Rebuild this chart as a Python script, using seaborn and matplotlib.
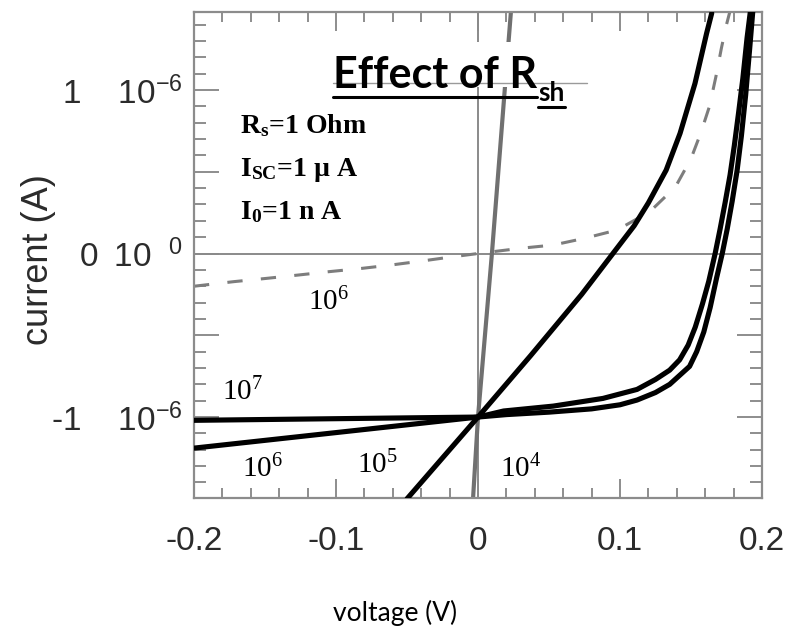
import numpy as np
import matplotlib
matplotlib.use("Agg")
import matplotlib.pyplot as plt
from matplotlib.lines import Line2D
from matplotlib.patches import Rectangle
from matplotlib.ticker import FixedLocator, FixedFormatter, MultipleLocator
import seaborn as sns

# Illuminated I-V curves (current in microamps) for several shunt resistances
v_rsh_1e7 = [-0.2, 0.0, 0.02, 0.05, 0.08, 0.10, 0.112, 0.125, 0.135, 0.142, 0.149,
             0.154, 0.159, 0.1635, 0.168, 0.172, 0.1755, 0.179, 0.1825, 0.1855, 0.1885,
             0.1912, 0.1935]
i_rsh_1e7 = [-1.02, -1.0, -0.985, -0.97, -0.95, -0.925, -0.896, -0.85, -0.80, -0.745, -0.69,
             -0.60, -0.48, -0.33, -0.15, 0.0, 0.15, 0.32, 0.51, 0.72, 0.97,
             1.24, 1.48]

v_rsh_1e6 = [-0.2, 0.0, 0.018, 0.053, 0.088, 0.112, 0.125, 0.135, 0.142, 0.148, 0.153,
             0.158, 0.1625, 0.167, 0.1705, 0.174, 0.1775, 0.1805, 0.1835, 0.1865, 0.1895,
             0.1918]
i_rsh_1e6 = [-1.19, -1.0, -0.963, -0.933, -0.886, -0.831, -0.77, -0.713, -0.65, -0.56, -0.45,
             -0.31, -0.17, 0.0, 0.15, 0.31, 0.48, 0.66, 0.86, 1.07, 1.32,
             1.48]

v_rsh_1e5 = [-0.05, 0.0, 0.037, 0.073, 0.095, 0.110, 0.120, 0.1325, 0.1423, 0.1528, 0.161, 0.1646]
i_rsh_1e5 = [-1.5, -1.0, -0.625, -0.25, 0.0, 0.17, 0.31, 0.51, 0.735, 1.04, 1.347, 1.47]

v_rsh_1e4 = [-0.0035, 0.0, 0.0098, 0.019, 0.0232]
i_rsh_1e4 = [-1.5, -1.0, 0.0, 1.02, 1.48]

# Dark curve (no illumination) for Rsh = 1e6 Ohm
v_dark_1e6 = [-0.2, -0.172, -0.149, -0.126, -0.105, -0.082, -0.061, -0.038, -0.018, 0.0,
              0.03, 0.053, 0.075, 0.098, 0.121, 0.139, 0.150, 0.157, 0.163, 0.1675,
              0.1715, 0.175, 0.178]
i_dark_1e6 = [-0.20, -0.172, -0.152, -0.131, -0.111, -0.091, -0.07, -0.044, -0.02, 0.0,
              0.032, 0.052, 0.093, 0.144, 0.256, 0.407, 0.58, 0.74, 0.90, 1.08,
              1.26, 1.40, 1.50]

xtick_values = [-0.2, -0.1, 0.0, 0.1, 0.2]
xtick_labels = ["-0.2", "-0.1", "0", "0.1", "0.2"]
ytick_values = [-1e-6, -0.5e-6, 0.0, 0.5e-6, 1e-6]
ytick_labels = [r"-1    10$^{-6}$", "", "0\u2009 10$^{\\enspace\\;0}$", "", r"1    10$^{-6}$"]

curve_labels = [r"$\mathregular{10^{6}}$", r"$\mathregular{10^{7}}$", r"$\mathregular{10^{6}}$",
                r"$\mathregular{10^{5}}$", r"$\mathregular{10^{4}}$"]
curve_label_pos = [(-0.1197, -0.346), (-0.180, -0.896), (-0.166, -1.368),
                   (-0.0852, -1.343), (0.0155, -1.368)]

params = [r"$\mathregular{R_s}$=1 Ohm", r"$\mathregular{I_{SC}}$=1 µ A", r"$\mathregular{I_0}$=1 n A"]

sns.set_style("ticks")
plt.rcParams["font.family"] = ["Liberation Sans", "DejaVu Sans"]
plt.rcParams["mathtext.default"] = "regular"
plt.rcParams["text.color"] = "black"

W, H = 800, 629
fig = plt.figure(figsize=(W / 100, H / 100), dpi=100)
ax = fig.add_axes([194 / W, 1 - 498 / H, 568 / W, 486 / H])

ax.axhline(0, color="#8a8a8a", lw=1.4, zorder=1)
ax.axvline(0, color="#8a8a8a", lw=1.4, zorder=1)

curves = [
    (v_dark_1e6, i_dark_1e6, dict(color="#7d7d7d", lw=2.2, linestyle=(0, (5, 6)), zorder=2)),
    (v_rsh_1e4, i_rsh_1e4, dict(color="#707070", lw=3.0, zorder=2.2)),
    (v_rsh_1e5, i_rsh_1e5, dict(color="black", lw=3.7, zorder=3)),
    (v_rsh_1e6, i_rsh_1e6, dict(color="black", lw=3.7, zorder=3)),
    (v_rsh_1e7, i_rsh_1e7, dict(color="black", lw=3.7, zorder=3)),
]
for v, i_ua, style in curves:
    sns.lineplot(x=v, y=np.asarray(i_ua) * 1e-6, ax=ax, legend=False,
                 estimator=None, sort=False, **style)

ax.set_xlim(-0.2, 0.2)
ax.set_ylim(-1.495e-6, 1.477e-6)

for sp in ax.spines.values():
    sp.set_visible(True)
    sp.set_color("#8c8c8c")
    sp.set_linewidth(1.6)

ax.xaxis.set_major_locator(FixedLocator(xtick_values))
ax.xaxis.set_major_formatter(FixedFormatter(xtick_labels))
ax.xaxis.set_minor_locator(MultipleLocator(0.02))
ax.yaxis.set_major_locator(FixedLocator(ytick_values))
ax.yaxis.set_major_formatter(FixedFormatter(ytick_labels))
ax.yaxis.set_minor_locator(MultipleLocator(0.1e-6))
ax.tick_params(which="both", direction="in", top=True, right=True, color="#7a7a7a",
               width=1.2, labelcolor="#2b2b2b", labelsize=24)
ax.tick_params(axis="x", which="major", length=14, pad=20)
ax.tick_params(axis="x", which="minor", length=7)
ax.tick_params(axis="y", which="major", length=18, pad=8)
ax.tick_params(axis="y", which="minor", length=8.5)

ax.set_xlabel("voltage (V)", fontsize=19, family="Lato", color="black")
ax.xaxis.set_label_coords((395 - 194) / 568, (498 - 613) / 486)
ax.xaxis.label.set_va("center")
ax.set_ylabel("current (A)", fontsize=26, color="#2b2b2b")
ax.yaxis.set_label_coords((38 - 194) / 568, 0.49)
ax.yaxis.label.set_va("center")

for lab, (x, y) in zip(curve_labels, curve_label_pos):
    ax.text(x, y * 1e-6, lab, family="Liberation Serif", fontsize=21, va="baseline",
            ha="left", zorder=6, color="black",
            bbox=dict(boxstyle="square,pad=0.15", fc="white", ec="none"))

# white panel behind the heading
fig.add_artist(Rectangle((330 / W, 1 - 87 / H), 250 / W, 45 / H, transform=fig.transFigure,
                         fc="white", ec="none", zorder=1))
fig.add_artist(Line2D([333 / W, 587 / W], [1 - 83 / H] * 2, transform=fig.transFigure,
                      color="#9a9a9a", lw=1.0, zorder=1.5))

title = fig.text(333 / W, 1 - 88 / H, "Effect of R", family="Lato", weight="bold",
                 fontsize=31, ha="left", va="baseline", zorder=3)
fig.canvas.draw()
rend = fig.canvas.get_renderer()
bb = title.get_window_extent(rend)
sub = fig.text((bb.x1 + 1) / W, 1 - 101 / H, "sh", family="Lato", weight="bold",
               fontsize=19, ha="left", va="baseline", zorder=3)
fig.canvas.draw()
bb2 = sub.get_window_extent(rend)
fig.add_artist(Line2D([bb.x0 / W, bb.x1 / W], [1 - 97 / H] * 2, transform=fig.transFigure,
                      color="black", lw=2.2, zorder=3))
fig.add_artist(Line2D([bb2.x0 / W, bb2.x1 / W], [1 - 107 / H] * 2, transform=fig.transFigure,
                      color="black", lw=2.2, zorder=3))

for k, txt in enumerate(params):
    fig.text(240 / W, 1 - (133 + 43 * k) / H, txt, family="Liberation Serif", weight="bold",
             fontsize=20, ha="left", va="baseline", zorder=3)

fig.savefig("out.png", dpi=100)
